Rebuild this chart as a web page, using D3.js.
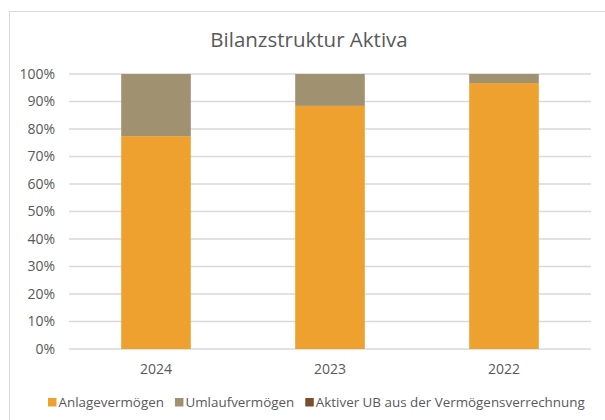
<!DOCTYPE html>
<html lang="de">
<head>
<meta charset="UTF-8">
<title>Bilanzstruktur Aktiva</title>
<script src="https://d3js.org/d3.v7.min.js"></script>
<style>
    body { margin: 0; background: #fff; font-family: 'Open Sans', 'Noto Sans', sans-serif; }
    svg text { fill: #595959; font-family: 'Open Sans', sans-serif; }
</style>
</head>
<body>
<div id="chart"></div>
<script>
    const years = ["2024", "2023", "2022"];
    const seriesNames = ["Anlagevermögen", "Umlaufvermögen", "Aktiver UB aus der Vermögensverrechnung"];
    const anlage = [0.774, 0.884, 0.967];
    const umlauf = [0.226, 0.116, 0.033];
    const aktiverUB = [0, 0, 0];
    const colors = ["#EEA12E", "#A09271", "#7A4E2B"];
    const yTicks = [0, 0.1, 0.2, 0.3, 0.4, 0.5, 0.6, 0.7, 0.8, 0.9, 1];

    const width = 605, height = 420;
    const margin = { top: 74, right: 14, bottom: 71, left: 69 };

    const svg = d3.select("#chart").append("svg")
        .attr("width", width)
        .attr("height", height);

    // chart frame (right and bottom edges fall outside the crop)
    svg.append("rect")
        .attr("x", 9.5).attr("y", 11.5)
        .attr("width", 620).attr("height", 430)
        .attr("fill", "none")
        .attr("stroke", "#d9d9d9");

    svg.append("text")
        .attr("x", 309).attr("y", 47)
        .attr("text-anchor", "middle")
        .attr("font-size", "20.5px")
        .text("Bilanzstruktur Aktiva");

    const x = d3.scaleBand()
        .domain(years)
        .range([margin.left, width - margin.right])
        .paddingInner(0.6).paddingOuter(0.3);

    const y = d3.scaleLinear()
        .domain([0, 1])
        .range([height - margin.bottom, margin.top]);

    // gridlines
    svg.append("g")
        .selectAll("line")
        .data(yTicks)
        .enter().append("line")
        .attr("x1", margin.left).attr("x2", width - margin.right)
        .attr("y1", d => y(d))
        .attr("y2", d => y(d))
        .attr("stroke", "#d9d9d9")
        .attr("stroke-width", 1.5);

    const yAxis = svg.append("g")
        .attr("transform", `translate(55,0)`)
        .call(d3.axisLeft(y).tickValues(yTicks).tickFormat(d3.format(".0%")).tickSize(0).tickPadding(0));
    yAxis.select(".domain").remove();
    yAxis.selectAll("text").attr("font-size", "14px");

    const rows = years.map((yr, i) => ({ year: yr, s0: anlage[i], s1: umlauf[i], s2: aktiverUB[i] }));
    const stacked = d3.stack().keys(["s0", "s1", "s2"])(rows);

    svg.append("g")
        .selectAll("g")
        .data(stacked)
        .enter().append("g")
        .attr("fill", (d, i) => colors[i])
        .selectAll("rect")
        .data(d => d)
        .enter().append("rect")
        .attr("x", d => x(d.data.year))
        .attr("width", x.bandwidth())
        .attr("y", d => y(d[1]))
        .attr("height", d => y(d[0]) - y(d[1]));

    const xAxis = svg.append("g")
        .attr("transform", `translate(0,${height - margin.bottom})`)
        .call(d3.axisBottom(x).tickSize(0).tickPadding(0));
    xAxis.select(".domain").remove();
    xAxis.selectAll("text").attr("font-size", "14px").attr("dy", null).attr("y", 25);

    // legend
    const legend = svg.append("g").attr("transform", "translate(48,407)");
    let lx = 0;
    seriesNames.forEach((name, i) => {
        const g = legend.append("g").attr("transform", `translate(${lx},0)`);
        g.append("rect").attr("x", 0).attr("y", -9).attr("width", 8.5).attr("height", 8.5).attr("fill", colors[i]);
        const t = g.append("text").attr("x", 10.5).attr("y", 0)
            .attr("font-size", "13.4px").text(name);
        lx += 10.5 + t.node().getComputedTextLength() + 11;
    });
</script>
</body>
</html>
